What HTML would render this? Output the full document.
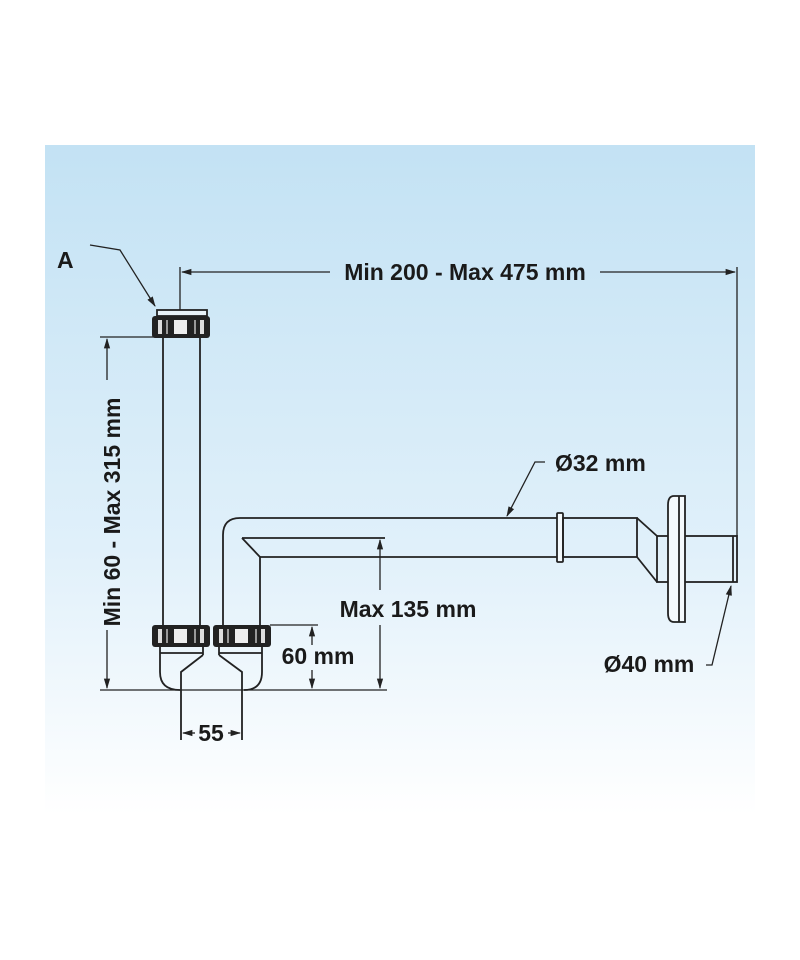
<!DOCTYPE html>
<html><head><meta charset="utf-8"><style>
html,body{margin:0;padding:0;background:#fff;}
svg{display:block;}
text{font-family:"Liberation Sans Narrow","Liberation Sans",sans-serif;font-weight:bold;font-size:23px;fill:#1a1a1a;}
</style></head><body>
<svg width="800" height="960" viewBox="0 0 800 960" xmlns="http://www.w3.org/2000/svg">
<defs>
<linearGradient id="bg" x1="0" y1="0" x2="0" y2="1">
<stop offset="0" stop-color="#c3e2f4"/>
<stop offset="0.6" stop-color="#e0f0fa"/>
<stop offset="1" stop-color="#ffffff"/>
</linearGradient>
<g id="nut">
<rect x="0" y="0" width="58" height="22" rx="3" fill="#222"/>
<rect x="6" y="4" width="4" height="14" fill="#ddd"/>
<rect x="22" y="4" width="13" height="14" fill="#eee"/>
<rect x="48" y="4" width="4" height="14" fill="#ddd"/>
<rect x="14" y="4" width="2" height="14" fill="#999"/>
<rect x="42" y="4" width="2" height="14" fill="#999"/>
</g>
<marker id="ar" viewBox="0 0 10 10" refX="9" refY="5" markerWidth="8" markerHeight="8" orient="auto-start-reverse"><path d="M0,2 L10,5 L0,8 z" fill="#222"/></marker>
</defs>
<rect x="45" y="145" width="710" height="670" fill="url(#bg)"/>
<g stroke="#222" stroke-width="1.8" fill="none">
<line x1="163" y1="337" x2="163" y2="625"/>
<line x1="200" y1="337" x2="200" y2="625"/>
<rect x="157" y="310" width="50" height="6" fill="#e8f2f8"/>
<path d="M223,625 L223,535 Q223,518 240,518 L557,518"/>
<path d="M260,625 L260,557 L557,557"/>
<path d="M242,538 L385,538 M242,538 L260,557"/>
<path d="M160,647 L160,672 Q160,690 180,690 M203,647 L203,655 M160,653 L203,653" />
<path d="M262,647 L262,672 Q262,690 244,690 M219,647 L219,655 M219,653 L262,653"/>
<path d="M203,655 L181,672 L181,740 M219,655 L242,672 L242,740"/>
<rect x="557" y="513" width="6" height="49" rx="1" fill="#f4f9fc"/>
<rect x="563" y="518" width="74" height="39"/>
<path d="M637,518 L657,536 M637,557 L657,582"/>
<rect x="657" y="536" width="80" height="46"/>
<path d="M685,496 L674,496 Q668,496 668,505 L668,613 Q668,622 674,622 L685,622 Z" fill="#f4f9fc"/>
<line x1="679" y1="496" x2="679" y2="622"/>
<line x1="733" y1="536" x2="733" y2="582"/>
<line x1="100" y1="690" x2="387" y2="690" stroke-width="1.3"/>
<line x1="100" y1="337" x2="163" y2="337" stroke-width="1.3"/>
<line x1="107" y1="380" x2="107" y2="339" marker-end="url(#ar)" stroke-width="1.3"/>
<line x1="107" y1="630" x2="107" y2="688" marker-end="url(#ar)" stroke-width="1.3"/>
<line x1="180" y1="267" x2="180" y2="310" stroke-width="1.3"/>
<line x1="737" y1="267" x2="737" y2="536" stroke-width="1.3"/>
<line x1="330" y1="272" x2="182" y2="272" marker-end="url(#ar)" stroke-width="1.3"/>
<line x1="600" y1="272" x2="735" y2="272" marker-end="url(#ar)" stroke-width="1.3"/>
<line x1="380" y1="590" x2="380" y2="540" marker-end="url(#ar)" stroke-width="1.3"/>
<line x1="380" y1="625" x2="380" y2="688" marker-end="url(#ar)" stroke-width="1.3"/>
<line x1="270" y1="625" x2="318" y2="625" stroke-width="1.3"/>
<line x1="312" y1="645" x2="312" y2="627" marker-end="url(#ar)" stroke-width="1.3"/>
<line x1="312" y1="670" x2="312" y2="688" marker-end="url(#ar)" stroke-width="1.3"/>
<line x1="195" y1="733" x2="183" y2="733" marker-end="url(#ar)" stroke-width="1.3"/>
<line x1="228" y1="733" x2="240" y2="733" marker-end="url(#ar)" stroke-width="1.3"/>
<path d="M90,245 L120,250 L155,306" marker-end="url(#ar)" stroke-width="1.3"/>
<path d="M545,462 L535,462 L507,516" marker-end="url(#ar)" stroke-width="1.3"/>
<path d="M706,665 L712,665 L731,586" marker-end="url(#ar)" stroke-width="1.3"/>
</g>
<use href="#nut" x="152" y="316"/>
<use href="#nut" x="152" y="625"/>
<use href="#nut" x="213" y="625"/>
<text x="57" y="268" font-size="27">A</text>
<text x="465" y="280" text-anchor="middle">Min 200 - Max 475 mm</text>
<text x="555" y="471">Ø32 mm</text>
<text x="408" y="617" text-anchor="middle">Max 135 mm</text>
<text x="318" y="664" text-anchor="middle">60 mm</text>
<text x="211" y="741" text-anchor="middle">55</text>
<text x="649" y="672" text-anchor="middle">Ø40 mm</text>
<text transform="translate(120,512) rotate(-90)" text-anchor="middle">Min 60 - Max 315 mm</text>
</svg>
</body></html>
